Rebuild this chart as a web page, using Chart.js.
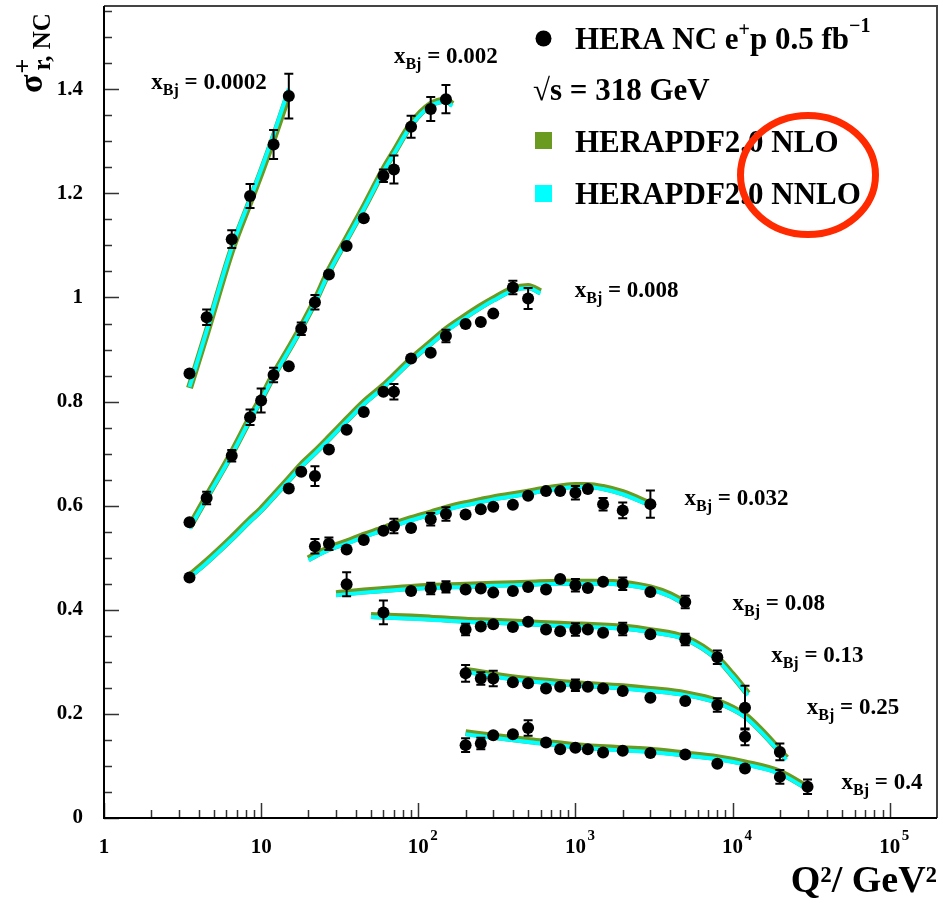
<!DOCTYPE html>
<html>
<head>
<meta charset="utf-8">
<script src="https://cdn.jsdelivr.net/npm/chart.js@4.4.1/dist/chart.umd.min.js"></script>
<style>
  html, body { margin: 0; padding: 0; background: #fff; }
  canvas { display: block; }
</style>
</head>
<body>
<canvas id="c" width="943" height="903"></canvas>
<script>
// ---------------- measured reduced cross sections (HERA NC e+p) ----------------
const q2_0002  = [3.5, 4.5, 6.5, 8.5, 12, 15];
const sig_0002 = [0.854, 0.962, 1.112, 1.195, 1.294, 1.387];
const err_0002 = [0.010, 0.015, 0.017, 0.023, 0.028, 0.043];

const q2_002  = [3.5, 4.5, 6.5, 8.5, 10, 12, 15, 18, 22, 27, 35, 45, 60, 70, 90, 120, 150];
const sig_002 = [0.568, 0.615, 0.696, 0.770, 0.802, 0.851, 0.868, 0.940, 0.991, 1.044, 1.099, 1.152, 1.234, 1.246, 1.328, 1.362, 1.381];
const err_002 = [0.006, 0.012, 0.011, 0.015, 0.023, 0.014, 0.010, 0.012, 0.014, 0.010, 0.010, 0.010, 0.012, 0.027, 0.021, 0.023, 0.027];

const q2_008  = [3.5, 15, 18, 22, 27, 35, 45, 60, 70, 90, 120, 150, 200, 250, 300, 400, 500];
const sig_008 = [0.462, 0.633, 0.665, 0.657, 0.708, 0.746, 0.780, 0.819, 0.819, 0.883, 0.894, 0.926, 0.949, 0.953, 0.969, 1.019, 0.998];
const err_008 = [0.004, 0.006, 0.008, 0.019, 0.006, 0.008, 0.008, 0.008, 0.015, 0.010, 0.010, 0.012, 0.010, 0.010, 0.010, 0.013, 0.020];

const q2_032  = [22, 27, 35, 45, 60, 70, 90, 120, 150, 200, 250, 300, 400, 500, 650, 800, 1000, 1200, 1500, 2000, 3000];
const sig_032 = [0.522, 0.527, 0.516, 0.534, 0.552, 0.561, 0.557, 0.574, 0.584, 0.583, 0.593, 0.598, 0.602, 0.619, 0.628, 0.628, 0.625, 0.632, 0.603, 0.591, 0.603];
const err_032 = [0.014, 0.012, 0.007, 0.010, 0.006, 0.014, 0.008, 0.012, 0.013, 0.006, 0.006, 0.006, 0.006, 0.010, 0.009, 0.009, 0.013, 0.010, 0.012, 0.015, 0.026];

const q2_08  = [35, 90, 120, 150, 200, 250, 300, 400, 500, 650, 800, 1000, 1200, 1500, 2000, 3000, 5000];
const sig_08 = [0.449, 0.436, 0.441, 0.444, 0.439, 0.441, 0.433, 0.436, 0.444, 0.439, 0.459, 0.447, 0.442, 0.454, 0.450, 0.434, 0.415];
const err_08 = [0.023, 0.005, 0.011, 0.011, 0.005, 0.005, 0.005, 0.005, 0.005, 0.005, 0.005, 0.012, 0.005, 0.010, 0.012, 0.010, 0.012];

const q2_13  = [60, 200, 250, 300, 400, 500, 650, 800, 1000, 1200, 1500, 2000, 3000, 5000, 8000, 12000];
const sig_13 = [0.395, 0.362, 0.368, 0.372, 0.367, 0.377, 0.362, 0.359, 0.362, 0.362, 0.356, 0.363, 0.353, 0.343, 0.309, 0.212];
const err_13 = [0.023, 0.011, 0.005, 0.005, 0.005, 0.005, 0.005, 0.005, 0.012, 0.005, 0.005, 0.012, 0.008, 0.011, 0.013, 0.042];

const q2_25  = [200, 250, 300, 400, 500, 650, 800, 1000, 1200, 1500, 2000, 3000, 5000, 8000, 12000, 20000];
const sig_25 = [0.278, 0.268, 0.268, 0.261, 0.259, 0.249, 0.252, 0.255, 0.252, 0.249, 0.244, 0.231, 0.225, 0.217, 0.156, 0.127];
const err_25 = [0.016, 0.012, 0.015, 0.005, 0.008, 0.005, 0.005, 0.011, 0.005, 0.005, 0.005, 0.005, 0.005, 0.013, 0.016, 0.016];

const q2_4  = [200, 250, 300, 400, 500, 650, 800, 1000, 1200, 1500, 2000, 3000, 5000, 8000, 12000, 20000, 30000];
const sig_4 = [0.140, 0.143, 0.159, 0.161, 0.173, 0.145, 0.132, 0.135, 0.132, 0.126, 0.129, 0.125, 0.122, 0.104, 0.095, 0.079, 0.060];
const err_4 = [0.013, 0.011, 0.005, 0.005, 0.015, 0.005, 0.005, 0.005, 0.005, 0.005, 0.005, 0.005, 0.005, 0.005, 0.007, 0.013, 0.014];

// ---------------- HERAPDF2.0 predictions (NLO / NNLO) ----------------
const thq2_0002 = [3.5, 4.5, 6.5, 8.5, 10, 12, 15];
const nlo_0002  = [0.826, 0.932, 1.091, 1.184, 1.240, 1.306, 1.392];
const nnlo_0002 = [0.828, 0.936, 1.096, 1.189, 1.246, 1.313, 1.401];

const thq2_002 = [3.5, 4.5, 6.5, 8.5, 10, 12, 15, 18, 22, 27, 35, 45, 60, 70, 90, 120, 150, 165];
const nlo_002  = [0.559, 0.617, 0.701, 0.768, 0.806, 0.851, 0.901, 0.943, 0.993, 1.051, 1.113, 1.173, 1.245, 1.279, 1.333, 1.371, 1.379, 1.371];
const nnlo_002 = [0.556, 0.614, 0.698, 0.765, 0.803, 0.848, 0.898, 0.940, 0.990, 1.048, 1.110, 1.170, 1.242, 1.276, 1.330, 1.368, 1.376, 1.368];

const thq2_008 = [3.5, 4.5, 6.5, 8.5, 10, 12, 15, 18, 22, 27, 35, 45, 60, 70, 90, 120, 150, 200, 250, 300, 400, 500, 600];
const nlo_008  = [0.465, 0.493, 0.538, 0.573, 0.593, 0.619, 0.651, 0.678, 0.703, 0.730, 0.765, 0.798, 0.830, 0.849, 0.881, 0.913, 0.938, 0.964, 0.983, 0.997, 1.016, 1.021, 1.011];
const nnlo_008 = [0.462, 0.490, 0.535, 0.570, 0.590, 0.616, 0.648, 0.675, 0.700, 0.727, 0.762, 0.795, 0.827, 0.846, 0.878, 0.910, 0.935, 0.961, 0.980, 0.994, 1.013, 1.018, 1.008];

const thq2_032 = [20, 22, 27, 35, 45, 60, 70, 90, 120, 150, 200, 250, 300, 400, 500, 650, 800, 1000, 1200, 1500, 2000, 3000];
const nlo_032  = [0.498, 0.505, 0.518, 0.530, 0.543, 0.556, 0.564, 0.575, 0.586, 0.595, 0.604, 0.610, 0.615, 0.621, 0.626, 0.632, 0.636, 0.639, 0.639, 0.635, 0.625, 0.603];
const nnlo_032 = [0.495, 0.502, 0.515, 0.527, 0.540, 0.553, 0.561, 0.572, 0.583, 0.592, 0.601, 0.607, 0.612, 0.618, 0.623, 0.629, 0.633, 0.636, 0.636, 0.632, 0.622, 0.600];

const thq2_08 = [30, 35, 45, 60, 90, 120, 200, 300, 500, 800, 1000, 1500, 2000, 3000, 4000, 5000];
const nlo_08  = [0.431, 0.433, 0.436, 0.439, 0.443, 0.445, 0.447, 0.449, 0.451, 0.453, 0.453, 0.453, 0.451, 0.442, 0.429, 0.413];
const nnlo_08 = [0.428, 0.430, 0.433, 0.436, 0.440, 0.442, 0.444, 0.446, 0.448, 0.450, 0.450, 0.450, 0.448, 0.439, 0.426, 0.410];

const thq2_13 = [50, 60, 90, 120, 200, 300, 500, 800, 1000, 1500, 2000, 3000, 5000, 8000, 10000, 12500];
const nlo_13  = [0.389, 0.388, 0.386, 0.384, 0.380, 0.378, 0.375, 0.372, 0.371, 0.369, 0.367, 0.360, 0.346, 0.307, 0.275, 0.239];
const nnlo_13 = [0.386, 0.385, 0.383, 0.381, 0.377, 0.375, 0.372, 0.369, 0.368, 0.366, 0.364, 0.357, 0.343, 0.304, 0.272, 0.236];

const thq2_25 = [200, 300, 500, 1000, 2000, 3000, 5000, 8000, 12000, 15000, 20000, 22000];
const nlo_25  = [0.284, 0.275, 0.266, 0.258, 0.252, 0.247, 0.239, 0.224, 0.197, 0.170, 0.129, 0.115];
const nnlo_25 = [0.281, 0.272, 0.263, 0.255, 0.249, 0.244, 0.236, 0.221, 0.194, 0.167, 0.126, 0.112];

const thq2_4 = [200, 300, 500, 1000, 2000, 3000, 5000, 8000, 12000, 20000, 30000];
const nlo_4  = [0.164, 0.157, 0.149, 0.139, 0.133, 0.130, 0.123, 0.116, 0.106, 0.088, 0.058];
const nnlo_4 = [0.161, 0.154, 0.146, 0.136, 0.130, 0.127, 0.120, 0.113, 0.103, 0.085, 0.055];

// ---------------- bins, ticks and annotation text ----------------
const xBjValues = ['0.0002', '0.002', '0.008', '0.032', '0.08', '0.13', '0.25', '0.4'];
// where each x_Bj caption starts (Q2, sigma of the text baseline)
const xBjLabelAt = [[2.0, 1.400], [70, 1.450], [990, 1.0013], [4950, 0.601],
                    [10000, 0.399], [17600, 0.300], [29700, 0.2007], [49400, 0.0565]];

const yTickValues = [0, 0.2, 0.4, 0.6, 0.8, 1.0, 1.2, 1.4];
const yTickLabels = ['0', '0.2', '0.4', '0.6', '0.8', '1', '1.2', '1.4'];
const xTickValues = [1, 10, 100, 1000, 10000, 100000];
const xTickLabels = ['1', '10', '10^2', '10^3', '10^4', '10^5'];

const SERIF = "'Liberation Serif', 'Times New Roman', 'DejaVu Serif', serif";
const GREEN = '#6a9a1f';
const CYAN = '#00ffff';
const bold = sz => `bold ${sz}px ${SERIF}`;

const bins = [
  { q2: q2_0002, sig: sig_0002, err: err_0002, thq2: thq2_0002, nlo: nlo_0002, nnlo: nnlo_0002 },
  { q2: q2_002,  sig: sig_002,  err: err_002,  thq2: thq2_002,  nlo: nlo_002,  nnlo: nnlo_002 },
  { q2: q2_008,  sig: sig_008,  err: err_008,  thq2: thq2_008,  nlo: nlo_008,  nnlo: nnlo_008 },
  { q2: q2_032,  sig: sig_032,  err: err_032,  thq2: thq2_032,  nlo: nlo_032,  nnlo: nnlo_032 },
  { q2: q2_08,   sig: sig_08,   err: err_08,   thq2: thq2_08,   nlo: nlo_08,   nnlo: nnlo_08 },
  { q2: q2_13,   sig: sig_13,   err: err_13,   thq2: thq2_13,   nlo: nlo_13,   nnlo: nnlo_13 },
  { q2: q2_25,   sig: sig_25,   err: err_25,   thq2: thq2_25,   nlo: nlo_25,   nnlo: nnlo_25 },
  { q2: q2_4,    sig: sig_4,    err: err_4,    thq2: thq2_4,    nlo: nlo_4,    nnlo: nnlo_4 }
];

const pts = (xs, ys) => xs.map((x, i) => ({ x: x, y: ys[i] }));

const datasets = [];
bins.forEach((b, k) => {
  datasets.push({
    label: 'HERAPDF2.0 NLO x=' + xBjValues[k], data: pts(b.thq2, b.nlo), order: 2,
    borderColor: GREEN, borderWidth: 7, pointRadius: 0, fill: false,
    cubicInterpolationMode: 'monotone', borderCapStyle: 'butt'
  });
  datasets.push({
    label: 'HERAPDF2.0 NNLO x=' + xBjValues[k], data: pts(b.thq2, b.nnlo), order: 1,
    borderColor: CYAN, borderWidth: 4, pointRadius: 0, fill: false,
    cubicInterpolationMode: 'monotone', borderCapStyle: 'butt'
  });
  datasets.push({
    label: 'HERA NC e+p x=' + xBjValues[k], data: pts(b.q2, b.sig), order: 0,
    errors: b.err, showLine: false, pointRadius: 6, pointStyle: 'circle',
    pointBackgroundColor: '#000', pointBorderWidth: 0, pointBorderColor: '#000'
  });
});

// draws a run of text pieces, each with its own size and vertical shift
function drawRich(ctx, x, y, parts) {
  let cx = x;
  for (const p of parts) {
    ctx.font = bold(p.size);
    ctx.fillText(p.text, cx, y + (p.dy || 0));
    cx += ctx.measureText(p.text).width + (p.gap || 0);
  }
  return cx;
}

// vertical error bars with end caps
const errorBars = {
  id: 'errorBars',
  afterDatasetsDraw(chart) {
    const { ctx, scales: { x, y } } = chart;
    ctx.save();
    ctx.strokeStyle = '#000';
    ctx.lineWidth = 2;
    chart.data.datasets.forEach(ds => {
      if (!ds.errors) return;
      ds.data.forEach((p, i) => {
        const e = ds.errors[i];
        const px = x.getPixelForValue(p.x);
        const yt = y.getPixelForValue(p.y + e);
        const yb = y.getPixelForValue(p.y - e);
        if ((yb - yt) / 2 < 5.5) return;
        ctx.beginPath();
        ctx.moveTo(px, yt); ctx.lineTo(px, yb);
        ctx.moveTo(px - 4.5, yt); ctx.lineTo(px + 4.5, yt);
        ctx.moveTo(px - 4.5, yb); ctx.lineTo(px + 4.5, yb);
        ctx.stroke();
      });
    });
    ctx.restore();
  }
};

// frame, inward tick marks, x tick labels, captions, legend and the ring
const decorations = {
  id: 'decorations',
  afterDraw(chart) {
    const { ctx, chartArea: a, scales: { x, y } } = chart;
    ctx.save();

    // inward ticks
    ctx.strokeStyle = '#333';
    ctx.lineWidth = 1.5;
    ctx.beginPath();
    for (let i = 0; i * 0.05 <= y.max + 1e-9; i++) {
      const py = Math.round(y.getPixelForValue(i * 0.05)) + 0.5;
      const len = i % 4 === 0 ? 15 : 8;
      ctx.moveTo(a.left, py); ctx.lineTo(a.left + len, py);
    }
    for (let e = 0; e <= 5; e++) {
      for (let m = 1; m <= 9; m++) {
        const v = m * Math.pow(10, e);
        if (v >= x.max) break;
        const px = Math.round(x.getPixelForValue(v)) + 0.5;
        const len = m === 1 ? 15 : 8;
        ctx.moveTo(px, a.bottom); ctx.lineTo(px, a.bottom - len);
      }
    }
    ctx.stroke();

    // frame
    ctx.strokeStyle = '#444';
    ctx.lineWidth = 2;
    ctx.beginPath();
    ctx.moveTo(a.left, a.top); ctx.lineTo(a.right, a.top); ctx.lineTo(a.right, a.bottom);
    ctx.stroke();
    ctx.strokeStyle = '#000';
    ctx.beginPath();
    ctx.moveTo(a.left, a.top); ctx.lineTo(a.left, a.bottom); ctx.lineTo(a.right, a.bottom);
    ctx.stroke();

    ctx.fillStyle = '#000';
    ctx.textBaseline = 'alphabetic';

    // x tick labels with raised exponents
    xTickValues.forEach((v, i) => {
      const [base, exp] = xTickLabels[i].split('^');
      const px = x.getPixelForValue(v);
      ctx.font = bold(21);
      ctx.textAlign = 'center';
      ctx.fillText(base, px, a.bottom + 34.5);
      if (exp) {
        const w = ctx.measureText(base).width;
        ctx.font = bold(15);
        ctx.textAlign = 'left';
        ctx.fillText(exp, px + w / 2 + 1.5, a.bottom + 21.5);
      }
    });
    ctx.textAlign = 'left';

    // y axis title: sigma^+_{r, NC}
    ctx.save();
    ctx.translate(42, 93);
    ctx.rotate(-Math.PI / 2);
    ctx.font = bold(34);
    ctx.fillText('σ', 0, 0);
    const sw = ctx.measureText('σ').width;
    ctx.font = bold(26);
    ctx.fillText('+', sw + 1, -11);
    ctx.font = bold(25);
    ctx.fillText('r, NC', sw + 4, 8);
    ctx.restore();

    // x_Bj captions
    xBjValues.forEach((val, k) => {
      const [lq, ls] = xBjLabelAt[k];
      const px = x.getPixelForValue(lq);
      const py = y.getPixelForValue(ls);
      drawRich(ctx, px, py, [
        { text: 'x', size: 23 },
        { text: 'Bj', size: 16, dy: 6 },
        { text: ' = ' + val, size: 23 }
      ]);
    });

    // legend
    ctx.beginPath();
    ctx.arc(543.5, 38.5, 8, 0, Math.PI * 2);
    ctx.fill();
    drawRich(ctx, 575, 48.5, [
      { text: 'HERA NC e', size: 31 },
      { text: '+', size: 20, dy: -13 },
      { text: 'p 0.5 fb', size: 31 },
      { text: '\u22121', size: 20, dy: -17 }
    ]);
    drawRich(ctx, 533, 99.5, [{ text: '\u221As = 318 GeV', size: 31 }]);
    ctx.fillStyle = GREEN;
    ctx.fillRect(535, 132, 17, 17);
    ctx.fillStyle = CYAN;
    ctx.fillRect(535, 185, 17, 17);
    ctx.fillStyle = '#000';
    drawRich(ctx, 575, 151.5, [{ text: 'HERAPDF2.0 NLO', size: 31 }]);
    drawRich(ctx, 575, 203.5, [{ text: 'HERAPDF2.0 NNLO', size: 31 }]);

    // red ring around the legend entries
    ctx.strokeStyle = '#ff2a00';
    ctx.lineWidth = 7;
    ctx.beginPath();
    ctx.ellipse(808, 175, 67.5, 59.5, 0, 0, Math.PI * 2);
    ctx.stroke();

    ctx.restore();
  }
};

const noPad = s => { s.paddingTop = 0; s.paddingBottom = 0; s.paddingLeft = 0; s.paddingRight = 0; };

new Chart(document.getElementById('c').getContext('2d'), {
  type: 'line',
  data: { datasets: datasets },
  options: {
    responsive: false,
    animation: false,
    devicePixelRatio: 1,
    layout: { padding: { top: 6, right: 2, left: 0, bottom: 0 } },
    plugins: { legend: { display: false }, tooltip: { enabled: false } },
    scales: {
      x: {
        type: 'logarithmic', min: 1, max: 2e5,
        grid: { display: false, drawTicks: false },
        border: { display: false },
        ticks: { display: false },
        afterBuildTicks: s => { s.ticks = xTickValues.map(v => ({ value: v, major: true })); },
        afterFit: s => { s.height = 85; noPad(s); },
        title: {
          display: true, text: 'Q\u00B2/ GeV\u00B2', align: 'end', color: '#000',
          font: { family: SERIF, size: 38, weight: 'bold', lineHeight: 1 },
          padding: { top: 0, bottom: 2 }
        }
      },
      y: {
        type: 'linear', min: 0, max: 1.56,
        grid: { display: false, drawTicks: false },
        border: { display: false },
        afterBuildTicks: s => { s.ticks = yTickValues.map(v => ({ value: v })); },
        afterFit: s => { s.width = 104; noPad(s); },
        ticks: {
          color: '#000', padding: 21, autoSkip: false,
          font: { family: SERIF, size: 21, weight: 'bold' },
          callback: (v, i) => yTickLabels[i]
        }
      }
    }
  },
  plugins: [errorBars, decorations]
});
</script>
</body>
</html>
